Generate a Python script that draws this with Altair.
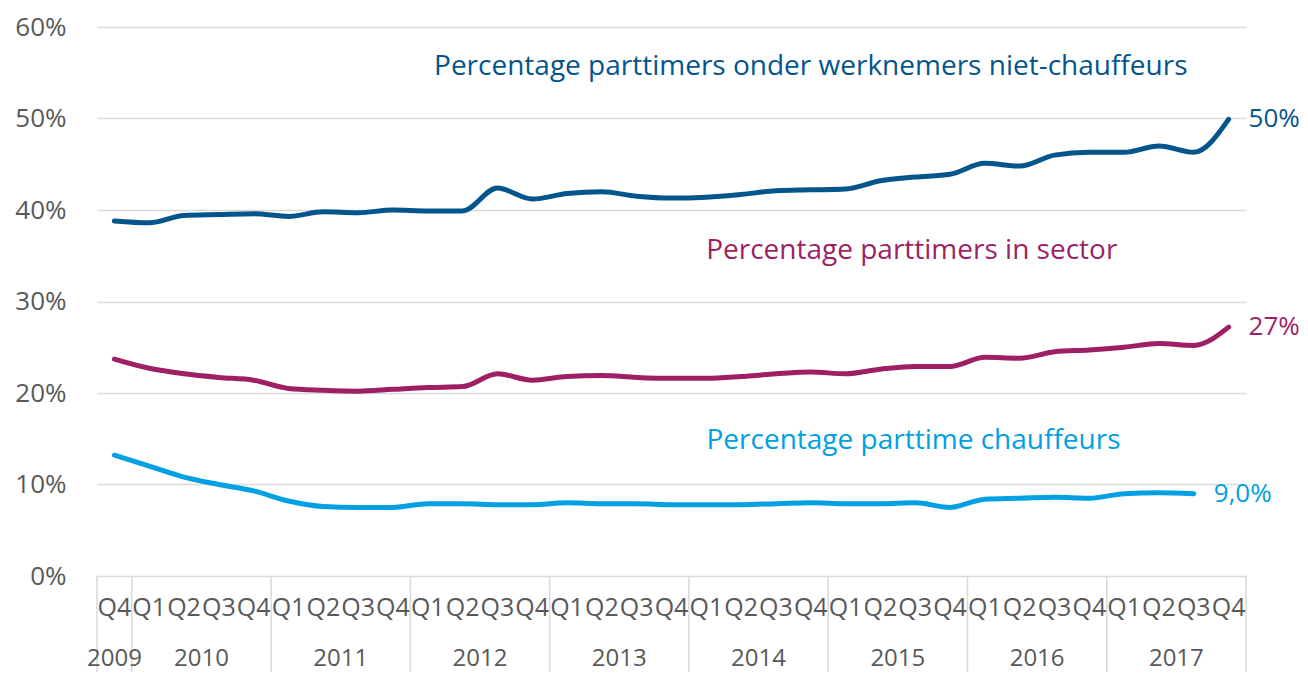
import altair as alt
import pandas as pd

# ---- data ----
quarters = ["Q4"] + ["Q1", "Q2", "Q3", "Q4"] * 8
years = [2009] + [y for y in range(2010, 2018) for _ in range(4)]

niet_chauffeurs = [38.8, 38.6, 39.4, 39.5, 39.6, 39.3, 39.8, 39.7, 40.0, 39.9, 39.9,
                   42.4, 41.2, 41.8, 42.0, 41.5, 41.3, 41.4, 41.7, 42.1, 42.2, 42.3,
                   43.2, 43.6, 43.9, 45.1, 44.8, 46.0, 46.3, 46.3, 47.0, 46.3, 49.9]
sector = [23.7, 22.7, 22.1, 21.7, 21.4, 20.5, 20.3, 20.2, 20.4, 20.6, 20.7,
          22.1, 21.4, 21.8, 21.9, 21.7, 21.6, 21.6, 21.8, 22.1, 22.3, 22.1,
          22.6, 22.9, 22.9, 23.9, 23.8, 24.5, 24.7, 25.0, 25.4, 25.2, 27.2]
chauffeurs = [13.2, 12.0, 10.8, 10.0, 9.3, 8.2, 7.6, 7.5, 7.5, 7.9, 7.9,
              7.8, 7.8, 8.0, 7.9, 7.9, 7.8, 7.8, 7.8, 7.9, 8.0, 7.9,
              7.9, 8.0, 7.5, 8.4, 8.5, 8.6, 8.5, 9.0, 9.1, 9.0]

series_names = ["Percentage parttimers onder werknemers niet-chauffeurs",
                "Percentage parttimers in sector",
                "Percentage parttime chauffeurs"]
series_values = [niet_chauffeurs, sector, chauffeurs]
series_colors = ["#03558C", "#9E1F63", "#00A0E3"]
end_labels = ["50%", "27%", "9,0%"]
# annotation anchor (quarter index, percentage)
name_pos_idx = [20.0, 22.9, 22.95]
name_pos_val = [55.6, 35.5, 14.8]

# ---- tables ----
rows = []
for name, vals in zip(series_names, series_values):
    for i, v in enumerate(vals):
        rows.append({"series": name, "idx": i, "value": v / 100})
lines_df = pd.DataFrame(rows)

end_df = pd.DataFrame({
    "series": series_names,
    "idx": [len(v) - 1 for v in series_values],
    "value": [v[-1] / 100 for v in series_values],
    "label": end_labels,
})
name_df = pd.DataFrame({
    "series": series_names,
    "idx": name_pos_idx,
    "value": [v / 100 for v in name_pos_val],
})
q_df = pd.DataFrame({"idx": list(range(len(quarters))), "label": quarters})
year_list = sorted(set(years))
y_df = pd.DataFrame({
    "year": [str(y) for y in year_list],
    "idx": [sum(i for i, yy in enumerate(years) if yy == y) / years.count(y) for y in year_list],
})
bounds = [-0.5] + [i + 0.5 for i in range(len(years) - 1) if years[i] != years[i + 1]] + [len(years) - 0.5]
sep_df = pd.DataFrame({"idx": bounds})

W, H = 1149, 549
FONT = "Open Sans"
GRAY = "#595959"
GRID = "#D9D9D9"

xscale = alt.Scale(domain=[-0.5, len(years) - 0.5], nice=False, zero=False)
yscale = alt.Scale(domain=[0, 0.6], nice=False)
color = alt.Color("series:N", scale=alt.Scale(domain=series_names, range=series_colors), legend=None)

base_lines = alt.Chart(lines_df).mark_line(strokeWidth=5, interpolate="monotone", strokeCap="round").encode(
    x=alt.X("idx:Q", scale=xscale, axis=None),
    y=alt.Y("value:Q", scale=yscale,
            axis=alt.Axis(values=[0, 0.1, 0.2, 0.3, 0.4, 0.5, 0.6], format=".0%", domain=False,
                          ticks=False, labelPadding=31, labelFontSize=26, labelColor=GRAY,
                          labelFont=FONT, gridColor=GRID, gridWidth=1.5, title=None)),
    color=color, detail="series:N")

end_text = alt.Chart(end_df).mark_text(align="left", baseline="middle", dx=20, fontSize=26, font=FONT).encode(
    x=alt.X("idx:Q"), y=alt.Y("value:Q"), text="label:N", color=color)

name_text = alt.Chart(name_df).mark_text(align="center", baseline="middle", fontSize=28, font=FONT).encode(
    x=alt.X("idx:Q"), y=alt.Y("value:Q"), text="series:N", color=color)

seps = alt.Chart(sep_df).mark_rule(color=GRID, strokeWidth=1.5).encode(
    x=alt.X("idx:Q"), y=alt.value(H), y2=alt.value(H + 96))

q_text = alt.Chart(q_df).mark_text(align="center", baseline="middle", fontSize=25, font=FONT, color=GRAY).encode(
    x=alt.X("idx:Q"), y=alt.value(H + 32), text="label:N")

y_text = alt.Chart(y_df).mark_text(align="center", baseline="middle", fontSize=24, font=FONT, color=GRAY).encode(
    x=alt.X("idx:Q"), y=alt.value(H + 83), text="year:N")

chart = alt.layer(base_lines, seps, end_text, name_text, q_text, y_text).properties(
    width=W, height=H,
    autosize=alt.AutoSizeParams(type="none"),
    padding={"left": 89, "top": 19, "right": 54, "bottom": 96},
    background="white",
).configure_view(strokeWidth=0)

chart.save("out.html", embed_options={"renderer": "svg", "actions": False})
